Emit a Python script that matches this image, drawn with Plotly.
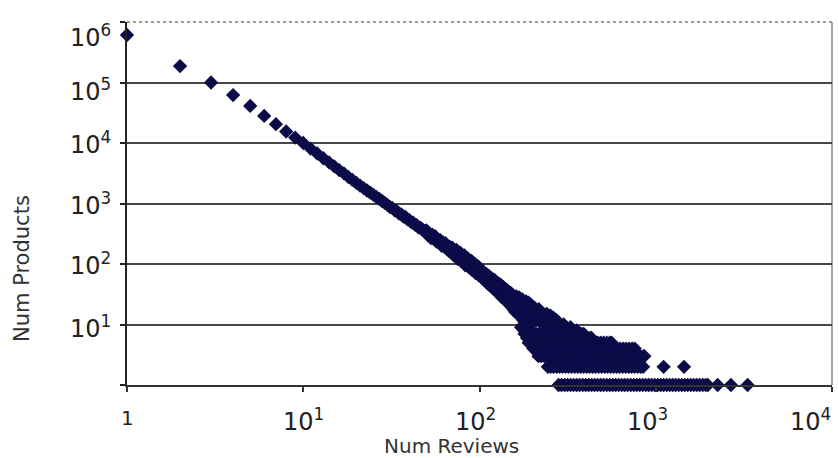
import math
import plotly.graph_objects as go

# ---- data: number of products having exactly k reviews ----
# main band, k = 1..200
main_reviews = list(range(1, 201))
main_products = [
    610000, 187000, 100000, 62000, 41000, 28000, 20500, 15500, 12300, 10000,
    8100, 6700, 5600, 4800, 4100, 3550, 3150, 2750, 2450, 2200,
    1980, 1800, 1640, 1510, 1390, 1280, 1190, 1100, 1025, 950,
    875, 845, 770, 745, 680, 662, 605, 598, 548, 531,
    492, 481, 449, 438, 404, 398, 383, 355, 349, 360,
    298, 320, 269, 305, 260, 288, 235, 253, 224, 247,
    200, 227, 193, 221, 179, 198, 165, 191, 162, 187,
    141, 167, 139, 171, 122, 152, 126, 153, 112, 140,
    107, 139, 95, 120, 98, 123, 88, 111, 86, 113,
    79, 96, 80, 100, 71, 93, 71, 92, 65, 83,
    84, 62, 77, 58, 74, 55, 70, 52, 68, 50,
    66, 47, 63, 45, 60, 43, 58, 41, 55, 39,
    55, 38, 52, 36, 50, 35, 48, 33, 46, 31,
    46, 30, 44, 28, 42, 29, 41, 27, 39, 26,
    38, 24, 37, 25, 35, 23, 34, 22, 33, 21,
    33, 20, 31, 19, 30, 18, 29, 17, 28, 16,
    24, 29, 17, 22, 26, 15, 23, 28, 14, 20,
    25, 9, 21, 17, 26, 12, 19, 23, 8, 16,
    22, 11, 18, 24, 10, 15, 20, 9, 17, 23,
    12, 14, 19, 8, 13, 21, 10, 16, 7, 12,
]

# upper part of the tail beyond 200 reviews
tail_reviews = [202, 205, 208, 211, 214, 217, 220, 223, 226, 229, 232, 235, 238, 241,
                244, 247, 250, 253, 256, 259, 262, 265, 268, 271, 274, 277, 280, 284,
                288, 292, 296, 300, 305, 310, 316, 322, 328, 334, 340, 348, 356, 365, 375]
tail_products = [15, 19, 12, 17, 14, 18, 11, 16, 13, 15, 10, 14, 12, 15,
                 9, 13, 11, 14, 10, 12, 13, 9, 11, 12, 8, 10, 11, 9,
                 10, 8, 9, 10, 8, 9, 7, 8, 9, 7, 8, 7, 8, 6, 7]

# low-count rows: review counts having exactly 7, 6, 5, 4, 3, 2, 1 products
reviews_7 = [180, 187, 194, 202, 210, 219, 228, 237, 246, 256, 266, 277, 288, 300,
             312, 324, 337, 350, 364, 379, 390]
reviews_6 = [186, 193, 201, 209, 218, 226, 235, 245, 255, 265, 275, 286, 298, 310,
             322, 335, 349, 363, 377, 392, 408, 424, 432]
reviews_5 = [190, 197, 205, 213, 222, 231, 240, 250, 260, 270, 281, 292, 304, 316,
             329, 342, 356, 370, 385, 400, 416, 433, 450, 468, 487, 506, 527, 548, 562]
reviews_4 = [202, 209, 218, 226, 235, 245, 255, 265, 275, 286, 298, 310, 322, 335,
             349, 363, 377, 392, 408, 424, 441, 459, 477, 496, 516, 537, 558, 581,
             604, 628, 653, 679, 707, 735, 760]
reviews_3 = [216, 224, 233, 243, 252, 262, 273, 284, 295, 307, 319, 332, 345, 359,
             373, 388, 404, 420, 437, 454, 472, 491, 511, 531, 552, 574, 597, 621,
             646, 672, 699, 727, 756, 786, 817, 850, 862]
reviews_2 = [244, 253, 263, 274, 285, 296, 308, 320, 333, 347, 361, 375, 390, 406,
             422, 439, 456, 474, 493, 513, 534, 555, 577, 600, 624, 649, 675, 702,
             730, 759, 790, 821, 848, 1108, 1447]
reviews_1 = [281, 292, 304, 316, 329, 342, 356, 370, 385, 400, 416, 433, 450, 468,
             487, 506, 527, 548, 570, 592, 616, 641, 666, 693, 721, 750, 780, 811,
             843, 877, 912, 948, 986, 1026, 1067, 1109, 1154, 1200, 1248, 1298, 1350,
             1404, 1460, 1518, 1579, 1642, 1708, 1776, 1847, 1921, 1975, 2245, 2671, 3320]

# axis tick labels
x_tick_vals = [1, 10, 100, 1000, 10000]
x_tick_text = ["1", "10<sup>1</sup>", "10<sup>2</sup>", "10<sup>3</sup>", "10<sup>4</sup>"]
y_tick_vals = [10, 100, 1000, 10000, 100000, 1000000]
y_tick_text = ["10<sup>1</sup>", "10<sup>2</sup>", "10<sup>3</sup>", "10<sup>4</sup>",
               "10<sup>5</sup>", "10<sup>6</sup>"]

# ---- assemble ----
xs = main_reviews + tail_reviews
ys = main_products + tail_products
for cnt, row in [(7, reviews_7), (6, reviews_6), (5, reviews_5), (4, reviews_4),
                 (3, reviews_3), (2, reviews_2), (1, reviews_1)]:
    xs += row
    ys += [cnt] * len(row)

FONT = "Verdana, DejaVu Sans, sans-serif"
MARK = "#0b0b48"

fig = go.Figure()
fig.add_trace(go.Scatter(
    x=xs, y=ys, mode="markers", cliponaxis=False,
    marker=dict(symbol="diamond", size=11, color=MARK, line=dict(width=0)),
    showlegend=False, hoverinfo="x+y"))

L, R, T, B = 127, 6, 22, 73
W, H = 838, 458
pw = W - L - R

fig.update_layout(
    width=W, height=H,
    margin=dict(l=L, r=R, t=T, b=B, autoexpand=False),
    paper_bgcolor="white", plot_bgcolor="white",
    font=dict(family=FONT, color="#222"),
    xaxis=dict(type="log", range=[0, 4], showgrid=False, zeroline=False,
               automargin=False,
               showline=True, linecolor="#333", linewidth=2,
               tickvals=x_tick_vals, showticklabels=False,
               ticks="outside", ticklen=5, tickcolor="#333", tickwidth=2),
    yaxis=dict(type="log", range=[0, 6], showgrid=True, gridcolor="#474747",
               gridwidth=2, zeroline=False, automargin=False,
               showline=True, linecolor="#222", linewidth=2,
               tickvals=y_tick_vals[:-1], showticklabels=False,
               ticks="outside", ticklen=5, tickcolor="#222", tickwidth=2,
               minor=dict(tickvals=[1, 1000000], ticks="outside", ticklen=5,
                          tickcolor="#222", showgrid=False)),
)

# plot frame (top and right)
fig.add_shape(type="line", xref="paper", yref="paper", x0=0, x1=1, y0=1, y1=1,
              line=dict(color="#9a9a9a", width=2, dash="dot"), layer="below")
fig.add_shape(type="line", xref="paper", yref="paper", x0=1, x1=1, y0=0, y1=1,
              line=dict(color="#8a8a8a", width=1.5), layer="below")

# y tick labels
y_shifts = [-2, 0, 0, 0, -7, -14]
for v, t, s in zip(y_tick_vals, y_tick_text, y_shifts):
    fig.add_annotation(xref="paper", x=0, xanchor="right", xshift=-14,
                       yref="y", y=math.log10(v), yanchor="middle", yshift=s,
                       text=t, showarrow=False,
                       font=dict(size=24, color="#222", family=FONT))

# x tick labels
x_shifts = [0, 0, -4, -8, -22]
for v, t, s in zip(x_tick_vals, x_tick_text, x_shifts):
    fig.add_annotation(xref="x", x=math.log10(v), xanchor="center", xshift=s,
                       yref="paper", y=0, yanchor="middle",
                       yshift=-35 if v > 1 else -33, borderpad=0,
                       text=t, showarrow=False,
                       font=dict(size=24 if v > 1 else 20, color="#222", family=FONT))

# axis titles
fig.add_annotation(xref="paper", x=(451 - L) / pw, yref="paper", y=0, yshift=-61,
                   xanchor="center", yanchor="middle", text="Num Reviews",
                   showarrow=False, borderpad=0,
                   font=dict(size=20, color="#333", family=FONT))
fig.add_annotation(xref="paper", x=0, xshift=22 - L, yref="paper",
                   y=(385 - 269) / (385 - 22), xanchor="center", yanchor="middle",
                   text="Num Products", textangle=-90,
                   showarrow=False, font=dict(size=21, color="#333", family=FONT))

fig.write_html(
    "out.html",
    config={"displayModeBar": False},
    post_script="document.body.style.margin='0';document.body.style.overflow='hidden';",
)
